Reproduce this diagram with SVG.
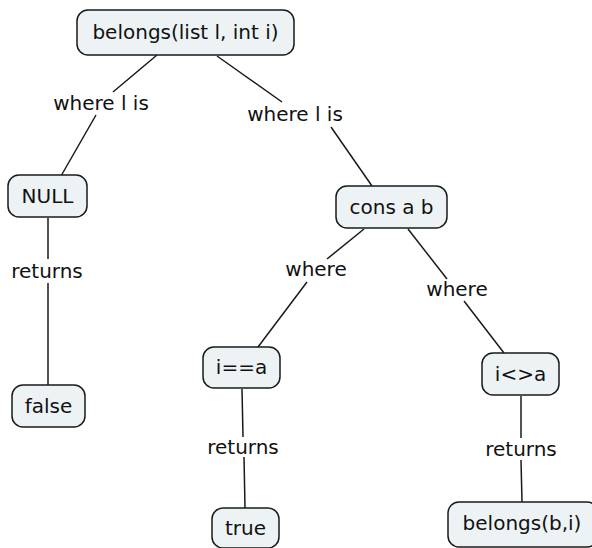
<svg xmlns="http://www.w3.org/2000/svg" width="592" height="548" viewBox="0 0 592 548">
  <style>
    .node rect { fill: #edf3f5; stroke: #1a1a1a; stroke-width: 1.5; }
    text { font-family: "DejaVu Sans", Verdana, sans-serif; font-size: 20px; fill: #111; text-anchor: middle; }
    .links line { fill: none; stroke: #1a1a1a; stroke-width: 1.5; }
  </style>
  <rect width="592" height="548" fill="#ffffff"/>

  <!-- connectors, each split around its label -->
  <g id="links" class="links">
    <line x1="157" y1="55" x2="113" y2="92"/>
    <line x1="96" y1="115" x2="61" y2="176"/>
    <line x1="217" y1="56" x2="282" y2="102"/>
    <line x1="331" y1="127" x2="372" y2="186"/>
    <line x1="48" y1="218" x2="48" y2="259"/>
    <line x1="48" y1="283" x2="48" y2="385"/>
    <line x1="364" y1="229" x2="327" y2="259"/>
    <line x1="307" y1="282" x2="258" y2="347"/>
    <line x1="408" y1="229" x2="447" y2="279"/>
    <line x1="464" y1="301" x2="504" y2="353"/>
    <line x1="242" y1="389" x2="243" y2="437"/>
    <line x1="244" y1="457" x2="245" y2="508"/>
    <line x1="521" y1="396" x2="521" y2="438"/>
    <line x1="521" y1="460" x2="522" y2="502"/>
  </g>

  <!-- link labels -->
  <g id="labels">
    <text x="101" y="110">where l is</text>
    <text x="295" y="121">where l is</text>
    <text x="47" y="278">returns</text>
    <text x="316" y="276">where</text>
    <text x="457" y="296">where</text>
    <text x="243" y="454">returns</text>
    <text x="521" y="456">returns</text>
  </g>

  <g id="n-belongs" class="node">
    <rect x="77" y="10" width="217" height="45" rx="11"/>
    <text x="185.5" y="39">belongs(list l, int i)</text>
  </g>
  <g id="n-null" class="node">
    <rect x="8" y="175" width="79" height="42" rx="11"/>
    <text x="47.5" y="203">NULL</text>
  </g>
  <g id="n-false" class="node">
    <rect x="12" y="385" width="73" height="42" rx="11"/>
    <text x="48.5" y="413">false</text>
  </g>
  <g id="n-cons" class="node">
    <rect x="336" y="186" width="111" height="42" rx="11"/>
    <text x="391.5" y="214">cons a b</text>
  </g>
  <g id="n-eq" class="node">
    <rect x="203" y="347" width="77" height="41" rx="11"/>
    <text x="241.5" y="374">i==a</text>
  </g>
  <g id="n-neq" class="node">
    <rect x="482" y="353" width="77" height="42" rx="11"/>
    <text x="520.5" y="381">i&lt;&gt;a</text>
  </g>
  <g id="n-true" class="node">
    <rect x="212" y="508" width="67" height="40" rx="11"/>
    <text x="245.5" y="535">true</text>
  </g>
  <g id="n-rec" class="node">
    <rect x="448" y="502" width="150" height="45" rx="11"/>
    <text x="522" y="530">belongs(b,i)</text>
  </g>
</svg>
